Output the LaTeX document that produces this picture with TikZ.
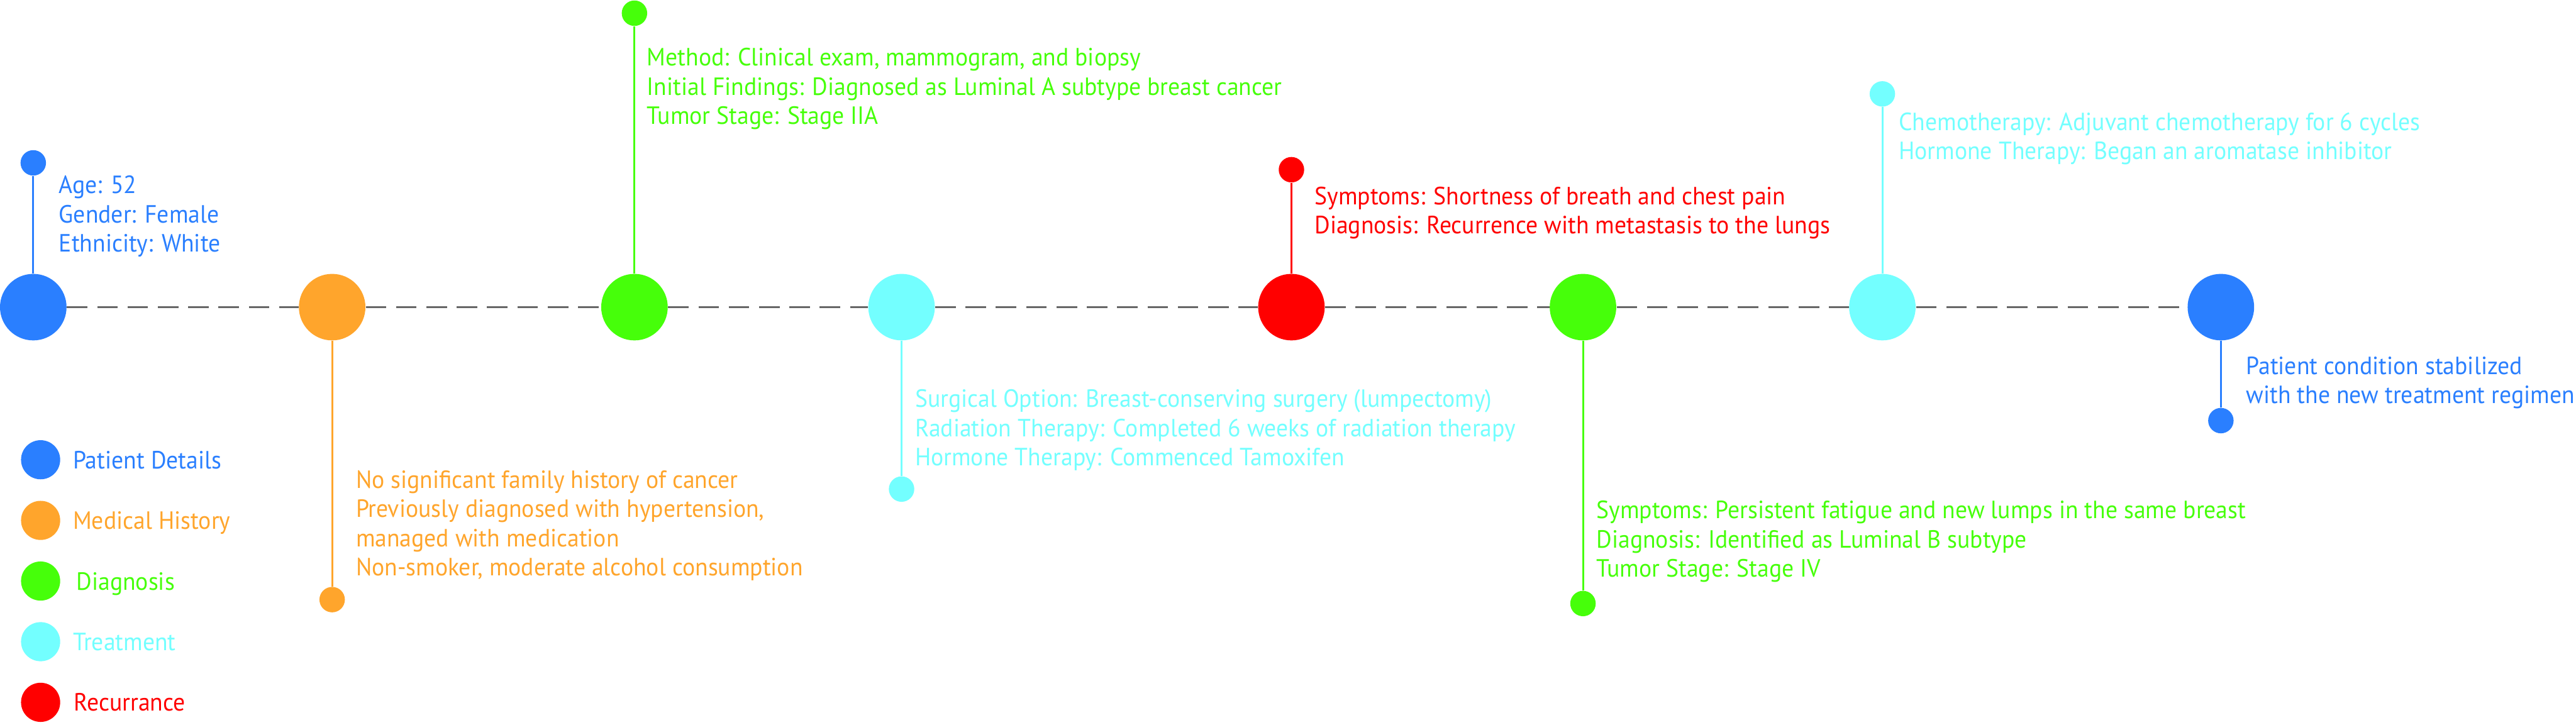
\documentclass[tikz,border=0pt]{standalone}
\usepackage{fontspec}
\setmainfont[FakeStretch=0.95]{PT Sans}
\usetikzlibrary{positioning}
\definecolor{PatientBlue}{HTML}{2A7FFF}
\definecolor{HistoryOrange}{HTML}{FFA52C}
\definecolor{DiagGreen}{HTML}{46FF0A}
\definecolor{TreatCyan}{HTML}{73FFFF}
\definecolor{RecurRed}{HTML}{FF0000}
\definecolor{dimgray}{rgb}{0.40, 0.40, 0.40}

\begin{document}
\begin{tikzpicture}[
    bigdot/.style={circle, minimum size=1.36cm, inner sep=0},
    smalldot/.style={circle, minimum size=0.52cm, inner sep=0},
    legdot/.style={circle, minimum size=0.80cm, inner sep=0},
    stem/.style={line width=1.1pt},
    timeline/.style={dimgray, line width=1.3pt, dash pattern=on 0.42cm off 0.2cm},
    info/.style={anchor=base west, align=left, inner sep=0, font=\fontsize{14.5}{17}\selectfont},
    legtext/.style={inner sep=0, text height=0.36cm, text depth=0pt, font=\fontsize{14.5}{17}\selectfont}]
        \useasboundingbox (0,0) rectangle (52.66,-14.82);

        % Events on the timeline
        \node[bigdot, fill=PatientBlue] (pd1) at (0.68,-6.28) {};
        \node[bigdot, fill=HistoryOrange] (mh1) at (6.79,-6.28) {};
        \node[bigdot, fill=DiagGreen] (dx1) at (12.97,-6.28) {};
        \node[bigdot, fill=TreatCyan] (tx1) at (18.43,-6.28) {};
        \node[bigdot, fill=RecurRed] (rc1) at (26.40,-6.28) {};
        \node[bigdot, fill=DiagGreen] (dx2) at (32.36,-6.28) {};
        \node[bigdot, fill=TreatCyan] (tx2) at (38.48,-6.28) {};
        \node[bigdot, fill=PatientBlue] (pd2) at (45.40,-6.28) {};

        % Dashed line between events
        \draw[timeline] (pd1) -- (mh1) -- (dx1) -- (tx1) -- (rc1) -- (dx2) -- (tx2) -- (pd2);

        % Small end dots
        \node[smalldot, fill=PatientBlue] (pd1end) at (0.68,-3.33) {};
        \node[smalldot, fill=HistoryOrange] (mh1end) at (6.79,-12.26) {};
        \node[smalldot, fill=DiagGreen] (dx1end) at (12.97,-0.27) {};
        \node[smalldot, fill=TreatCyan] (tx1end) at (18.43,-10.00) {};
        \node[smalldot, fill=RecurRed] (rc1end) at (26.40,-3.47) {};
        \node[smalldot, fill=DiagGreen] (dx2end) at (32.36,-12.34) {};
        \node[smalldot, fill=TreatCyan] (tx2end) at (38.48,-1.92) {};
        \node[smalldot, fill=PatientBlue] (pd2end) at (45.40,-8.60) {};

        % Stems
        \draw[stem, PatientBlue] (pd1) -- (pd1end);
        \draw[stem, HistoryOrange] (mh1) -- (mh1end);
        \draw[stem, DiagGreen] (dx1) -- (dx1end);
        \draw[stem, TreatCyan] (tx1) -- (tx1end);
        \draw[stem, RecurRed] (rc1) -- (rc1end);
        \draw[stem, DiagGreen] (dx2) -- (dx2end);
        \draw[stem, TreatCyan] (tx2) -- (tx2end);
        \draw[stem, PatientBlue] (pd2) -- (pd2end);

        % Texts (anchored at the baseline of their last line)
        \node[info, PatientBlue] (pd1text) at (1.20,-5.15) {Age: 52\\Gender: Female\\Ethnicity: White};
        \node[info, HistoryOrange] (mh1text) at (7.27,-11.77) {No significant family history of cancer\\Previously diagnosed with hypertension,\\managed with medication\\Non-smoker, moderate alcohol consumption};
        \node[info, DiagGreen] (dx1text) at (13.22,-2.54) {Method: Clinical exam, mammogram, and biopsy\\Initial Findings: Diagnosed as Luminal A subtype breast cancer\\Tumor Stage: Stage IIA};
        \node[info, TreatCyan] (tx1text) at (18.70,-9.52) {Surgical Option: Breast-conserving surgery (lumpectomy)\\Radiation Therapy: Completed 6 weeks of radiation therapy\\Hormone Therapy: Commenced Tamoxifen};
        \node[info, RecurRed] (rc1text) at (26.87,-4.78) {Symptoms: Shortness of breath and chest pain\\Diagnosis: Recurrence with metastasis to the lungs};
        \node[info, DiagGreen] (dx2text) at (32.63,-11.80) {Symptoms: Persistent fatigue and new lumps in the same breast\\Diagnosis: Identified as Luminal B subtype\\Tumor Stage: Stage IV};
        \node[info, TreatCyan] (tx2text) at (38.81,-3.26) {Chemotherapy: Adjuvant chemotherapy for 6 cycles\\Hormone Therapy: Began an aromatase inhibitor};
        \node[info, PatientBlue] (pd2text) at (45.91,-8.25) {Patient condition stabilized\\with the new treatment regimen};

        % Legend
        \node[legdot, fill=PatientBlue] (lg1) at (0.83,-9.40) {};
        \node[legdot, fill=HistoryOrange] (lg2) at (0.83,-10.64) {};
        \node[legdot, fill=DiagGreen] (lg3) at (0.83,-11.88) {};
        \node[legdot, fill=TreatCyan] (lg4) at (0.83,-13.12) {};
        \node[legdot, fill=RecurRed] (lg5) at (0.83,-14.36) {};
        \node[legtext, PatientBlue, right=0.25 of lg1] (lg1text) {Patient Details};
        \node[legtext, HistoryOrange, right=0.25 of lg2] (lg2text) {Medical History};
        \node[legtext, DiagGreen, right=0.32 of lg3] (lg3text) {Diagnosis};
        \node[legtext, TreatCyan, right=0.25 of lg4] (lg4text) {Treatment};
        \node[legtext, RecurRed, right=0.27 of lg5] (lg5text) {Recurrance};
    \end{tikzpicture}
\end{document}
